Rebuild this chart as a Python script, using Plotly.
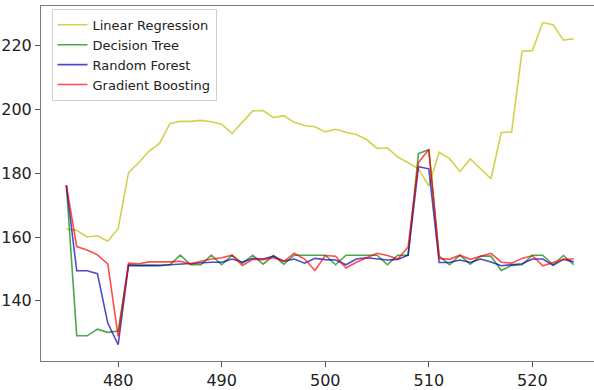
import plotly.graph_objects as go

x_vals = list(range(475, 525))

linear_regression = [
    162.5, 162.1, 160.0, 160.4, 158.7, 162.6, 180.2, 183.4, 187.0, 189.4,
    195.6, 196.3, 196.3, 196.6, 196.2, 195.4, 192.5, 196.1, 199.6, 199.7,
    197.5, 198.1, 196.0, 195.0, 194.6, 193.0, 193.8, 192.9, 192.2, 190.6,
    187.8, 188.0, 185.1, 183.3, 181.4, 176.0, 186.6, 184.6, 180.6, 184.5,
    181.4, 178.3, 192.8, 193.0, 218.3, 218.5, 227.3, 226.6, 221.8, 222.2,
]
decision_tree = [
    176.2, 129.0, 129.0, 131.1, 130.1, 130.5, 151.3, 151.1, 151.2, 151.2,
    151.3, 154.3, 151.3, 151.3, 154.3, 151.3, 154.3, 151.8, 154.3, 151.5,
    154.2, 151.5, 154.3, 154.3, 154.3, 154.3, 151.3, 154.3, 154.3, 154.3,
    154.3, 151.3, 154.3, 154.3, 186.2, 187.4, 154.0, 151.3, 154.3, 151.5,
    154.0, 154.0, 149.5, 151.1, 151.3, 154.3, 154.3, 151.3, 154.2, 151.3,
]
random_forest = [
    176.2, 149.4, 149.4, 148.5, 133.0, 126.2, 151.1, 151.0, 151.0, 151.0,
    151.3, 151.5, 151.7, 152.0, 152.1, 152.1, 153.1, 152.1, 153.3, 153.1,
    154.0, 152.4, 153.1, 151.8, 153.3, 152.9, 152.8, 151.3, 153.1, 153.5,
    153.1, 152.8, 153.0, 154.3, 182.1, 181.4, 152.0, 152.0, 152.8, 152.0,
    153.1, 152.2, 151.0, 151.2, 151.6, 153.1, 153.1, 151.1, 153.0, 152.2,
]
gradient_boosting = [
    176.2, 157.0, 155.9, 154.4, 151.6, 128.8, 151.8, 151.6, 152.2, 152.1,
    152.2, 152.4, 151.5, 152.4, 153.1, 153.5, 154.3, 151.1, 153.0, 152.9,
    153.5, 152.4, 154.9, 153.1, 149.5, 154.2, 154.0, 150.3, 152.1, 153.5,
    154.9, 154.2, 153.1, 156.9, 183.4, 187.5, 153.3, 153.0, 154.3, 153.0,
    154.0, 154.9, 152.1, 151.8, 153.3, 154.2, 151.0, 152.0, 153.0, 153.1,
]

series = [
    ("Linear Regression", linear_regression, "rgba(191,191,0,0.7)"),
    ("Decision Tree", decision_tree, "rgba(0,128,0,0.7)"),
    ("Random Forest", random_forest, "rgba(0,0,180,0.7)"),
    ("Gradient Boosting", gradient_boosting, "rgba(255,0,0,0.7)"),
]

fig = go.Figure()
for name, ys, color in series:
    fig.add_trace(go.Scatter(x=x_vals, y=ys, mode="lines", name=name,
                             line=dict(color=color, width=1.6)))

axis_common = dict(
    showgrid=False, zeroline=False, showline=True, linecolor="#7a7a7a", linewidth=1,
    ticks="outside", ticklen=5, tickcolor="#555", tickwidth=1,
    tickfont=dict(family="DejaVu Sans", size=16, color="#222"),
)

fig.update_layout(
    width=594, height=390,
    margin=dict(l=41, r=0, t=6, b=22),
    paper_bgcolor="white", plot_bgcolor="white",
    font=dict(family="DejaVu Sans", color="#222"),
    xaxis=dict(range=[472.55, 525.95], tickvals=[480, 490, 500, 510, 520], mirror=True, **axis_common),
    yaxis=dict(range=[121.1, 232.5], tickvals=[140, 160, 180, 200, 220], **axis_common),
    legend=dict(x=0.019, y=0.992, xanchor="left", yanchor="top",
                bgcolor="rgba(255,255,255,0.8)", bordercolor="#d0d0d0", borderwidth=1,
                font=dict(family="DejaVu Sans", size=13, color="#222"),
                itemwidth=30, tracegroupgap=0),
    showlegend=True,
)

fig.write_html("out.html")
